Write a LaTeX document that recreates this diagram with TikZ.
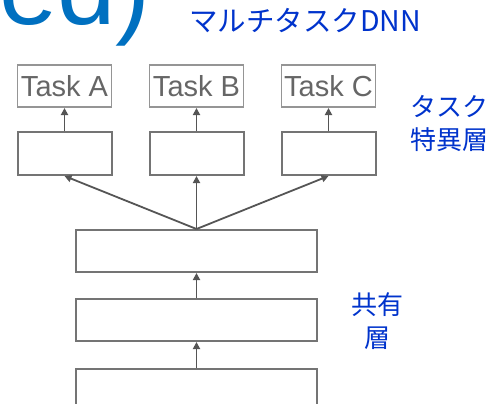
\documentclass[tikz,border=0pt]{standalone}
\usepackage{fontspec}
\setmainfont{Liberation Sans}
\newfontfamily\jpfont{Noto Sans CJK JP}
\usepackage{tikz}
\usetikzlibrary{arrows.meta,positioning}
\definecolor{ttlblue}{HTML}{0070C0}
\definecolor{jpblue}{HTML}{0033CC}
\definecolor{boxgray}{HTML}{747474}
\definecolor{taskgray}{HTML}{959595}
\definecolor{txtgray}{HTML}{666666}
\definecolor{arrgray}{HTML}{555555}

\begin{document}
\begin{tikzpicture}[x=1pt, y=1pt,
    box/.style={rectangle, draw=boxgray, line width=2pt, minimum width=94pt, minimum height=43pt, inner sep=0pt},
    taskbox/.style={rectangle, draw=taskgray, line width=1.6pt, minimum width=94pt, minimum height=42pt, inner sep=0pt,
      text=txtgray, font=\fontsize{29}{31}\selectfont},
    sharedbox/.style={box, minimum width=241pt, minimum height=42pt},
    arr/.style={-{Triangle[length=7pt,width=7pt]}, draw=arrgray, line width=1.8pt},
    jplabel/.style={text=jpblue, font=\jpfont\fontsize{26}{33}\selectfont, align=center, inner sep=0pt}]
      \useasboundingbox (0,0) rectangle (490,-404);
      \clip (0,0) rectangle (490,-404);

      % Title
      \node[anchor=base east, inner sep=0pt, text=ttlblue, font=\fontsize{105}{120}\selectfont] (title) at (151,-25) {ed)};
      \node[anchor=base west, inner sep=0pt, text=jpblue, font=\jpfont\fontsize{28.5}{30}\selectfont] (subtitle) at (189,-32) {マルチタスクDNN};

      % Shared layers
      \node[sharedbox] (shared1) at (196.5,-251) {};
      \node[sharedbox, below=25pt of shared1] (shared2) {};
      \node[sharedbox, below=26pt of shared2] (shared3) {};

      % Task specific layers
      \node[box, above=53pt of shared1] (specB) {};
      \node[box, left=36pt of specB] (specA) {};
      \node[box, right=36pt of specB] (specC) {};

      % Tasks
      \node[taskbox, above=23pt of specA] (taskA) {Task A};
      \node[taskbox, above=23pt of specB] (taskB) {Task B};
      \node[taskbox, above=23pt of specC] (taskC) {Task C};

      % Labels
      \node[jplabel] (speclabel) at (449,-123.5) {タスク\\特異層};
      \node[jplabel] (sharedlabel) at (377.5,-321.5) {共有\\層};

      % Arrows
      \draw[arr] (shared3) -- (shared2);
      \draw[arr] (shared2) -- (shared1);
      \draw[arr] (shared1.north) -- (specA.south);
      \draw[arr] (shared1.north) -- (specB.south);
      \draw[arr] (shared1.north) -- (specC.south);
      \draw[arr] (specA) -- (taskA);
      \draw[arr] (specB) -- (taskB);
      \draw[arr] (specC) -- (taskC);
    \end{tikzpicture}
\end{document}
